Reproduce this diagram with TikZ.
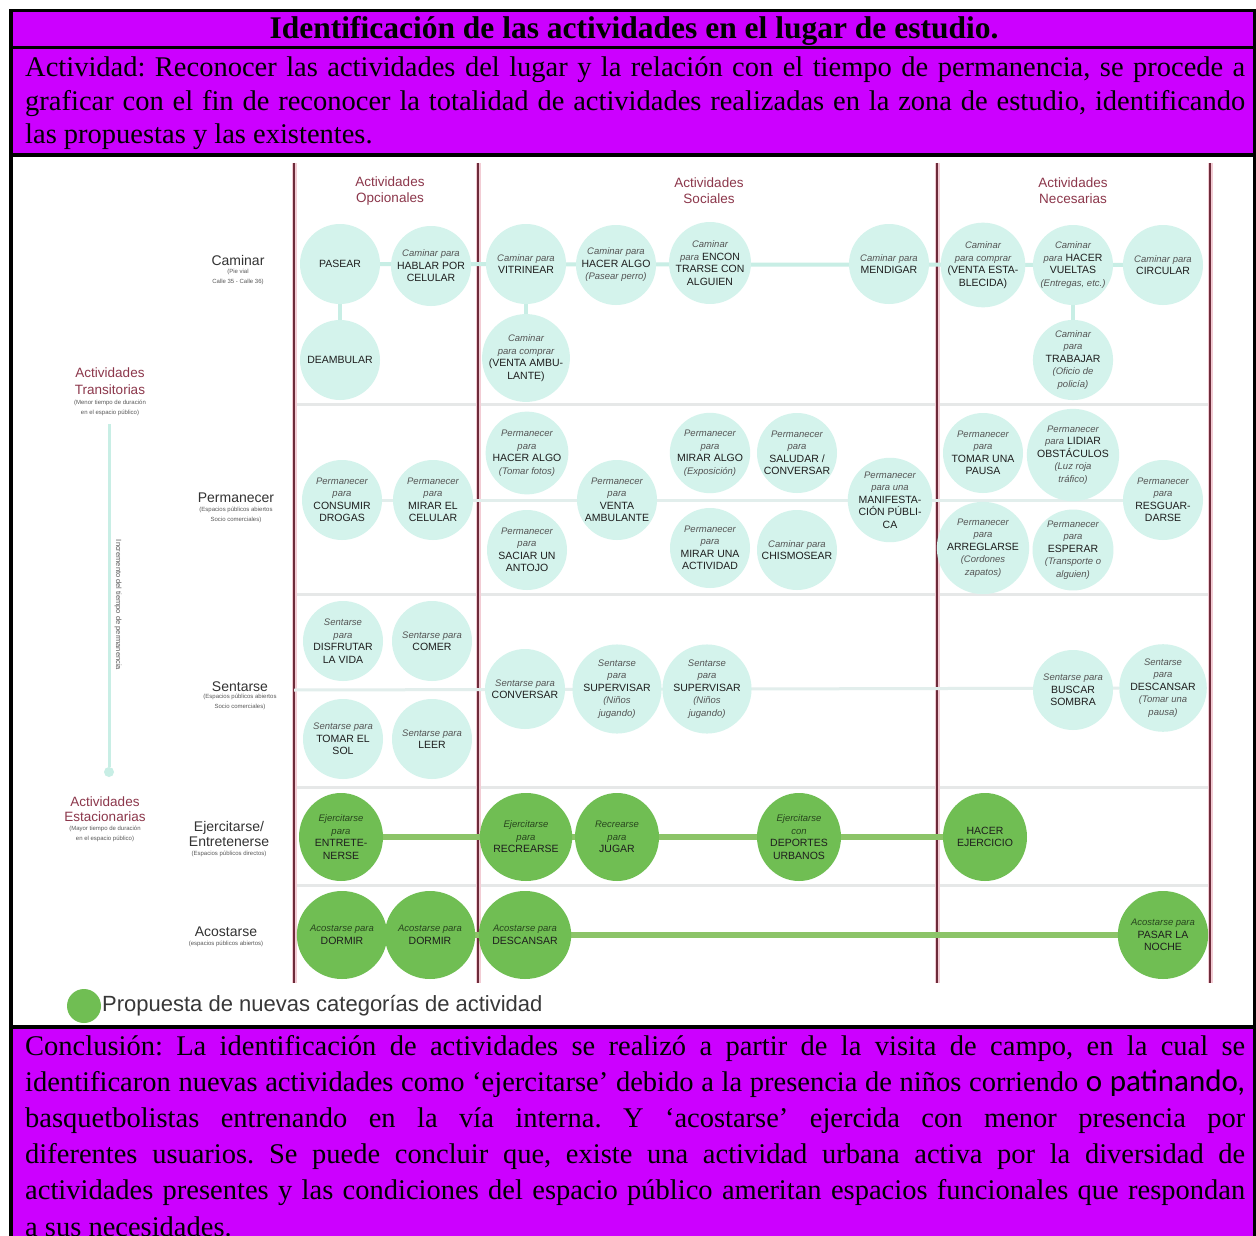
\documentclass[tikz,border=0pt]{standalone}
\usepackage{fontspec}
\setmainfont{Liberation Serif}
\newfontfamily\dsf{Liberation Sans}
\newfontfamily\carl{Carlito}
\usetikzlibrary{shapes.geometric}
\pgfdeclarelayer{bg}
\pgfdeclarelayer{ln}
\pgfsetlayers{bg,ln,main}
\frenchspacing
\definecolor{mag}{RGB}{204,0,255}
\definecolor{tealf}{RGB}{212,243,236}
\definecolor{tealln}{RGB}{200,238,229}
\definecolor{rowln}{RGB}{226,238,236}
\definecolor{greenf}{RGB}{112,190,83}
\definecolor{greenln}{RGB}{140,196,104}
\definecolor{maroonc}{RGB}{110,43,58}
\definecolor{maroonlt}{RGB}{242,204,212}
\definecolor{hdrc}{RGB}{140,55,75}
\definecolor{sepg}{RGB}{230,232,232}
\definecolor{ltxt}{RGB}{85,85,85}
\definecolor{dtxt}{RGB}{30,30,30}
\definecolor{gtxt}{RGB}{40,70,30}
\newcommand\litl[1]{{\fontsize{9.5}{12.5}\selectfont\itshape\color{ltxt}#1}}
\newcommand\capl[1]{{\fontsize{10.5}{12.5}\selectfont #1}}
\newcommand\jline[1]{\hbox to 1220pt{#1}}
\tikzset{
  tc/.style={circle, fill=tealf, minimum size=80pt, inner sep=0pt, align=center,
    font=\dsf\fontsize{10.5}{12.5}\selectfont, text=dtxt},
  gc/.style={ellipse, fill=greenf, minimum width=84pt, minimum height=88pt, inner sep=0pt, align=center,
    font=\dsf\fontsize{10.5}{12.5}\selectfont, text=dtxt, execute at begin node={\colorlet{ltxt}{gtxt}}},
  sepline/.style={sepg, line width=3pt},
  vlhalo/.style={maroonlt, line width=5pt},
  vlcore/.style={maroonc, line width=2pt},
  tline/.style={tealln, line width=4pt},
  rline/.style={rowln, line width=3pt},
  gline/.style={greenln, line width=6pt},
  hdr/.style={text=hdrc, font=\dsf\fontsize{13.5}{16}\selectfont, align=center},
  rlab/.style={text=black!80, font=\dsf\fontsize{14}{15}\selectfont, align=center},
  sublab/.style={text=black!65, font=\dsf\fontsize{6}{9.5}\selectfont, align=center},
}
\begin{document}
\begin{tikzpicture}[x=1pt,y=-1pt]
\useasboundingbox (0,0) rectangle (1256,1236);
\begin{pgfonlayer}{bg}
\fill[white] (0,0) rectangle (1256,1236);
\fill[black] (9,9) rectangle (1256,1236);
\fill[mag] (13,12) rectangle (1253,46);
\fill[mag] (13,49) rectangle (1253,153);
\fill[white] (13,157) rectangle (1253,1025);
\fill[mag] (13,1029) rectangle (1253,1236);
\end{pgfonlayer}

% texts of the table
\node[anchor=base, inner sep=0pt, font=\bfseries\fontsize{31.5}{34}\selectfont] (title) at (634,39)
  {Identificación de las actividades en el lugar de estudio.};
\node[anchor=base west, inner sep=0pt] (act) at (25,77) {\parbox[t]{1220pt}{\fontsize{28.5}{33.5}\selectfont
\jline{Actividad: Reconocer las actividades del lugar y la relación con el tiempo de permanencia, se procede a}
\jline{graficar con el fin de reconocer la totalidad de actividades realizadas en la zona de estudio, identificando}
\hbox{las propuestas y las existentes.}}};
\node[anchor=base west, inner sep=0pt] (concl) at (25,1055) {\parbox[t]{1220pt}{\fontsize{28.5}{36.2}\selectfont
\jline{Conclusión: La identificación de actividades se realizó a partir de la visita de campo, en la cual se}
\jline{identificaron nuevas actividades como ‘ejercitarse’ debido a la presencia de niños corriendo {\carl\fontsize{31}{34}\selectfont o patinando,}}
\jline{basquetbolistas entrenando en la vía interna. Y ‘acostarse’ ejercida con menor presencia por}
\jline{diferentes usuarios. Se puede concluir que, existe una actividad urbana activa por la diversidad de}
\jline{actividades presentes y las condiciones del espacio público ameritan espacios funcionales que respondan}
\hbox{a sus necesidades.}}};

% column headers
\node[hdr] (hopc) at (390,191) {Actividades\\Opcionales};
\node[hdr] (hsoc) at (709,191) {Actividades\\Sociales};
\node[hdr] (hnec) at (1073,191) {Actividades\\Necesarias};

% row labels
\node[rlab] (lcam) at (238,260) {Caminar};
\node[sublab] (lcams) at (238,277) {(Pie vial\\Calle 35 - Calle 36)};
\node[rlab] (lper) at (236,498) {Permanecer};
\node[sublab] (lpers) at (236,515) {(Espacios públicos abiertos\\Socio comerciales)};
\node[rlab] (lsen) at (240,687) {Sentarse};
\node[sublab] (lsens) at (240,702) {(Espacios públicos abiertos\\Socio comerciales)};
\node[rlab] (leje) at (229,834) {Ejercitarse/\\Entretenerse};
\node[sublab] (lejes) at (229,854) {(Espacios públicos directos)};
\node[rlab] (laco) at (226,932) {Acostarse};
\node[sublab] (lacos) at (226,944) {(espacios públicos abiertos)};

% left axis
\node[hdr, font=\dsf\fontsize{13.5}{16.5}\selectfont] (ltr) at (110,381) {Actividades\\Transitorias};
\node[sublab] (ltrs) at (110,408) {(Menor tiempo de duración\\en el espacio público)};
\node[hdr, font=\dsf\fontsize{13.5}{15.5}\selectfont] (les) at (105,809) {Actividades\\Estacionarias};
\node[sublab] (less) at (105,834) {(Mayor tiempo de duración\\en el espacio público)};
\node[circle, fill=tealln, minimum size=10pt, inner sep=0pt] (axdot) at (109,772) {};
\coordinate (axtop) at (109,424);
\node[rotate=-90, text=black!65, font=\dsf\fontsize{7.5}{9}\selectfont] (axt) at (118,605) {Incremento del tiempo de permanencia};

% Caminar
\node[tc] (pasear) at (340,264) {\capl{PASEAR}};
\node[tc] (hablar) at (431,266) {\litl{Caminar para}\\\capl{HABLAR POR}\\\capl{CELULAR}};
\node[tc] (deamb) at (340,360) {\capl{DEAMBULAR}};
\node[tc] (vitri) at (526,264) {\litl{Caminar para}\\\capl{VITRINEAR}};
\node[tc] (hacalgo) at (616,265) {\litl{Caminar para}\\\capl{HACER ALGO}\\\litl{(Pasear perro)}};
\node[tc] (encon) at (710,263) {\litl{Caminar}\\\litl{para} \capl{ENCON}\\\capl{TRARSE CON}\\\capl{ALGUIEN}};
\node[tc] (mend) at (889,264) {\litl{Caminar para}\\\capl{MENDIGAR}};
\node[tc] (ventaamb) at (526,358) {\litl{Caminar}\\\litl{para comprar}\\\capl{(VENTA AMBU-}\\\capl{LANTE)}};
\node[tc] (ventaest) at (983,265) {\litl{Caminar}\\\litl{para comprar}\\\capl{(VENTA ESTA-}\\\capl{BLECIDA)}};
\node[tc] (vueltas) at (1073,265) {\litl{Caminar}\\\litl{para} \capl{HACER}\\\capl{VUELTAS}\\\litl{(Entregas, etc.)}};
\node[tc] (circ) at (1163,265) {\litl{Caminar para}\\\capl{CIRCULAR}};
\node[tc] (trab) at (1073,360) {\litl{Caminar}\\\litl{para}\\\capl{TRABAJAR}\\\litl{(Oficio de}\\\litl{policía)}};

% Permanecer
\node[tc] (consum) at (342,500) {\litl{Permanecer}\\\litl{para}\\\capl{CONSUMIR}\\\capl{DROGAS}};
\node[tc] (mircel) at (433,500) {\litl{Permanecer}\\\litl{para}\\\capl{MIRAR EL}\\\capl{CELULAR}};
\node[tc] (hacfot) at (527,453) {\litl{Permanecer}\\\litl{para}\\\capl{HACER ALGO}\\\litl{(Tomar fotos)}};
\node[tc] (saciar) at (527,550) {\litl{Permanecer}\\\litl{para}\\\capl{SACIAR UN}\\\capl{ANTOJO}};
\node[tc] (pventa) at (617,500) {\litl{Permanecer}\\\litl{para}\\\capl{VENTA}\\\capl{AMBULANTE}};
\node[tc] (miralgo) at (710,453) {\litl{Permanecer}\\\litl{para}\\\capl{MIRAR ALGO}\\\litl{(Exposición)}};
\node[tc] (saludar) at (797,453) {\litl{Permanecer}\\\litl{para}\\\capl{SALUDAR /}\\\capl{CONVERSAR}};
\node[tc] (miruna) at (710,548) {\litl{Permanecer}\\\litl{para}\\\capl{MIRAR UNA}\\\capl{ACTIVIDAD}};
\node[tc] (chism) at (797,550) {\litl{Caminar para}\\\capl{CHISMOSEAR}};
\node[tc] (manif) at (890,500) {\litl{Permanecer}\\\litl{para una}\\\capl{MANIFESTA-}\\\capl{CIÓN PÚBLI-}\\\capl{CA}};
\node[tc] (pausa) at (983,453) {\litl{Permanecer}\\\litl{para}\\\capl{TOMAR UNA}\\\capl{PAUSA}};
\node[tc] (lidiar) at (1073,455) {\litl{Permanecer}\\\litl{para} \capl{LIDIAR}\\\capl{OBSTÁCULOS}\\\litl{(Luz roja}\\\litl{tráfico)}};
\node[tc] (arregl) at (983,548) {\litl{Permanecer}\\\litl{para}\\\capl{ARREGLARSE}\\\litl{(Cordones}\\\litl{zapatos)}};
\node[tc] (esperar) at (1073,550) {\litl{Permanecer}\\\litl{para}\\\capl{ESPERAR}\\\litl{(Transporte o}\\\litl{alguien)}};
\node[tc] (resg) at (1163,500) {\litl{Permanecer}\\\litl{para}\\\capl{RESGUAR-}\\\capl{DARSE}};

% Sentarse
\node[tc] (disfr) at (343,641) {\litl{Sentarse}\\\litl{para}\\\capl{DISFRUTAR}\\\capl{LA VIDA}};
\node[tc] (comer) at (432,641) {\litl{Sentarse para}\\\capl{COMER}};
\node[tc] (sol) at (343,739) {\litl{Sentarse para}\\\capl{TOMAR EL}\\\capl{SOL}};
\node[tc] (leer) at (432,739) {\litl{Sentarse para}\\\capl{LEER}};
\node[tc] (sconv) at (525,689) {\litl{Sentarse para}\\\capl{CONVERSAR}};
\node[tc] (sup1) at (617,689) {\litl{Sentarse}\\\litl{para}\\\capl{SUPERVISAR}\\\litl{(Niños}\\\litl{jugando)}};
\node[tc] (sup2) at (707,689) {\litl{Sentarse}\\\litl{para}\\\capl{SUPERVISAR}\\\litl{(Niños}\\\litl{jugando)}};
\node[tc] (sombra) at (1073,690) {\litl{Sentarse para}\\\capl{BUSCAR}\\\capl{SOMBRA}};
\node[tc] (sdesc) at (1163,688) {\litl{Sentarse}\\\litl{para}\\\capl{DESCANSAR}\\\litl{(Tomar una}\\\litl{pausa)}};
\coordinate (senL) at (294,690);

% Ejercitarse
\node[gc] (entret) at (341,837) {\litl{Ejercitarse}\\\litl{para}\\\capl{ENTRETE-}\\\capl{NERSE}};
\node[gc] (recr) at (526,837) {\litl{Ejercitarse}\\\litl{para}\\\capl{RECREARSE}};
\node[gc] (jugar) at (617,837) {\litl{Recrearse}\\\litl{para}\\\capl{JUGAR}};
\node[gc] (deport) at (799,837) {\litl{Ejercitarse}\\\litl{con}\\\capl{DEPORTES}\\\capl{URBANOS}};
\node[gc] (hacej) at (985,837) {\capl{HACER}\\\capl{EJERCICIO}};

% Acostarse
\node[gc] (dorm1) at (342,935) {\litl{Acostarse para}\\\capl{DORMIR}};
\node[gc] (dorm2) at (430,935) {\litl{Acostarse para}\\\capl{DORMIR}};
\node[gc] (adesc) at (525,935) {\litl{Acostarse para}\\\capl{DESCANSAR}};
\node[gc] (noche) at (1163,935) {\litl{Acostarse para}\\\capl{PASAR LA}\\\capl{NOCHE}};

% legend
\node[circle, fill=greenf, minimum size=34pt, inner sep=0pt] (leg) at (84,1006) {};
\node[anchor=west, inner sep=0pt, text=black!78, font=\dsf\fontsize{22}{24}\selectfont] (legt) at (102,1006)
  {Propuesta de nuevas categorías de actividad};

\begin{pgfonlayer}{ln}
% row separators
\foreach \yy in {404,594,787,885} \draw[sepline] (294,\yy) -- (1210,\yy);
% column lines
\foreach \xx in {294,478,937,1210} {
  \draw[vlhalo] (\xx,163) -- (\xx,983);
  \draw[vlcore] (\xx,163) -- (\xx,983);
}
% connectors
\draw[tline] (pasear) -- (circ);
\draw[tline] (pasear) -- (deamb);
\draw[tline] (vitri) -- (ventaamb);
\draw[tline] (vueltas) -- (trab);
\draw[rline] (consum) -- (resg);
\draw[rline] (senL) -- (sdesc);
\draw[gline] (entret) -- (hacej);
\draw[gline] (dorm1) -- (noche);
\draw[tealln, line width=3pt] (axtop) -- (axdot);
\end{pgfonlayer}
\end{tikzpicture}
\end{document}
